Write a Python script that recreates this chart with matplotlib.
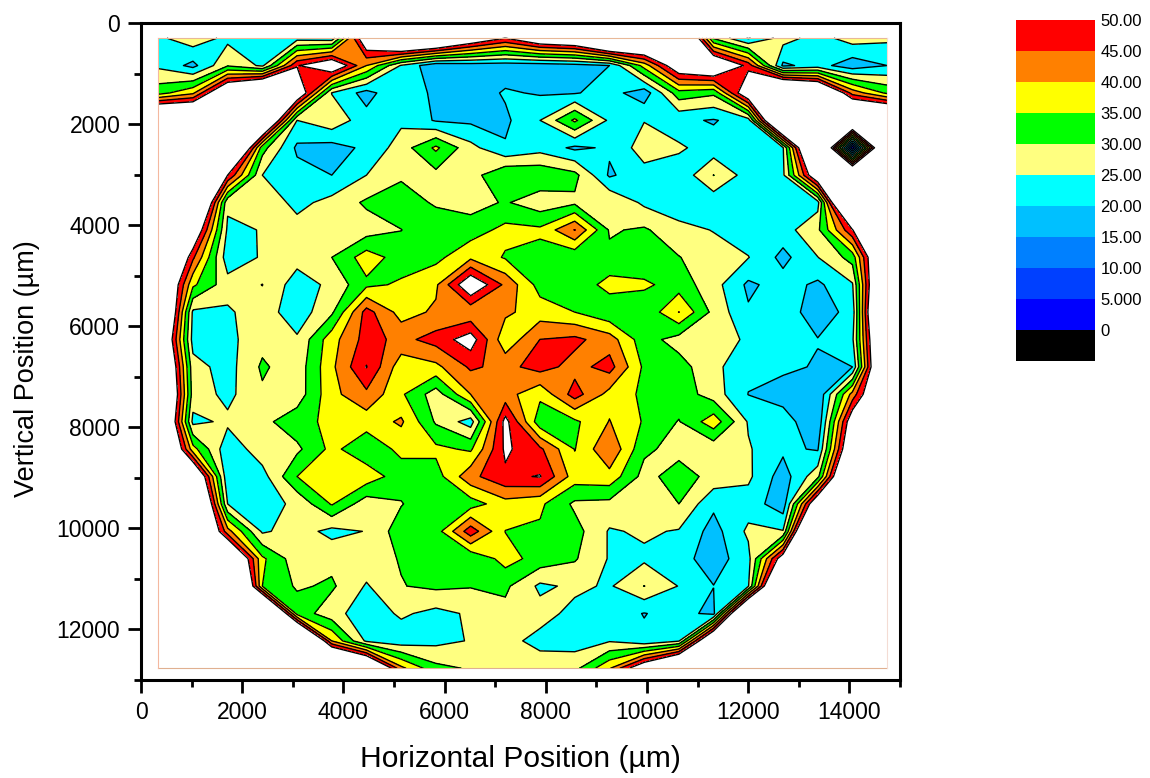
import numpy as np
import matplotlib
matplotlib.use("Agg")
import matplotlib.pyplot as plt
from matplotlib.ticker import MultipleLocator

plt.rcParams['font.family'] = ['Liberation Sans', 'DejaVu Sans']

# measurement grid [um]
x_positions = [340, 1026, 1712, 2398, 3084, 3770, 4456, 5142, 5828, 6514, 7200,
               7886, 8572, 9258, 9944, 10630, 11316, 12002, 12688, 13374, 14060, 14746]
y_positions = [300, 842, 1384, 1926, 2469, 3011, 3553, 4095, 4637, 5179, 5721, 6263,
               6805, 7347, 7889, 8431, 8974, 9516, 10058, 10600, 11142, 11684, 12226, 12768]

# one list per row, top to bottom
values = [
    [24, 28, 23.7, 23, 23, 22, 58, 74, 70, 58, 50, 59, 62, 78, 71, 77, 29.5, 19.5, 27, 23, 27.3, 26],
    [24, 18.5, 29.5, 24, 49.5, 58, 40, 24.5, 16, 17, 17, 17, 18, 20, 37, 57, 62, 48, 19, 22, 17, 20],
    [33, 39, 63, 77, 59, 24.8, 18, 24.7, 18.5, 17, 20.6, 19.5, 19.6, 22, 17, 33, 31, 58, 80, 70, 43, 34],
    [75, 73, 85, 72, 25, 28.5, 22, 24, 19.5, 19, 19, 25, 36, 24, 24.8, 21, 19.6, 22.5, 80, 85, 75, 75],
    [85, 85, 83, 32, 19, 18, 21, 27.4, 36, 26.6, 20.5, 23, 19, 20.7, 27.5, 26, 22, 23, 24.5, 81, 1, 78],
    [85, 85, 50, 25, 22, 20, 25, 29.1, 28.4, 27.9, 34.5, 34, 31.5, 19.3, 23, 21.3, 30.1, 22.6, 24, 59, 75, 85],
    [85, 78, 26, 28.5, 23.5, 26.7, 30.8, 33, 29.2, 28, 30.5, 27, 29, 29.7, 24, 22, 21.6, 21, 21, 23, 88, 85],
    [80, 59, 24, 25.2, 27, 28, 27.6, 29.9, 33.9, 32.5, 36.5, 36, 45.2, 29.5, 30.7, 26.5, 24.8, 22, 22.8, 29, 49.5, 85],
    [76, 46, 22, 25.5, 27, 30, 37.6, 32.7, 33.6, 38.9, 34.5, 33, 31, 31, 31, 30.2, 27, 25.2, 18.5, 24.9, 32, 72],
    [69, 36, 27, 30.1, 22.3, 26.3, 33.9, 35.7, 39.1, 56, 43.8, 33, 31.4, 37, 36, 32.7, 27, 19, 22.2, 19, 24.5, 77],
    [76, 24, 24.3, 27.6, 22, 29.1, 47, 38, 40.8, 41, 41, 37.5, 35, 31, 31, 40.1, 28.5, 20.6, 23, 17, 22, 85],
    [68, 23, 23.5, 28.4, 25.7, 38, 47, 43.5, 47, 52.9, 36.4, 45.05, 46.2, 42.5, 32, 28, 27.5, 24.2, 22, 20.2, 24, 76],
    [74, 26.9, 23, 30.8, 27, 38.9, 50.2, 37, 38.7, 45.8, 43.5, 47, 43.2, 47, 34, 32, 26.5, 21, 20.9, 19.6, 20, 76],
    [78, 27.7, 23.7, 29.2, 27.2, 38.5, 43.9, 35.8, 27.4, 40, 42, 36.2, 47.2, 38.2, 34, 33, 27.5, 19.9, 18, 15.5, 42, 68],
    [75, 23.6, 26, 28.6, 33, 36.4, 37.2, 40.8, 29.3, 22.6, 52, 31.7, 34, 40.2, 34.5, 29.7, 38, 24.5, 22.3, 16, 56, 80],
    [77, 37, 21.5, 27.9, 28.9, 36.4, 31.3, 36.4, 36.2, 34.2, 51, 46, 34.8, 44.5, 31, 28.2, 26.6, 25.5, 21, 19.5, 62, 80],
    [85, 65, 21, 23, 35, 38, 38, 32.3, 32.7, 43.5, 49, 50.3, 37.5, 38.2, 28.2, 32.5, 28.2, 26, 17.5, 28.4, 76, 80],
    [85, 79, 25, 23, 26, 35.5, 27, 29.7, 34, 32.5, 38, 36, 29, 28.5, 28.5, 30, 21, 22.7, 17, 60, 85, 85],
    [85, 75, 42, 24.2, 27.3, 23.5, 25.2, 32.8, 32.5, 48, 34.9, 34.2, 32, 24.5, 25.7, 24.6, 18, 26, 25.3, 90, 85, 85],
    [85, 85, 70, 36, 27, 28.5, 28, 30.3, 31.5, 30.5, 37, 33, 30.5, 24.6, 24.1, 22, 17.4, 23.3, 55, 85, 85, 85],
    [85, 85, 90, 35, 29.3, 30.8, 24.5, 29.8, 31, 30.3, 31, 24, 26, 24.4, 30.1, 24.8, 20.1, 24.5, 80, 85, 85, 85],
    [85, 85, 85, 87, 33, 27, 22, 25.8, 23.5, 25.7, 28.5, 26.8, 23.6, 22.5, 19.8, 22, 18.5, 80, 85, 85, 85, 85],
    [85, 85, 85, 85, 86, 40, 24, 22, 23.6, 25.3, 26.5, 23.5, 22.7, 24.6, 21, 24.5, 68, 85, 85, 85, 85, 85],
    [85, 85, 85, 85, 85, 85, 72, 41.4, 31.4, 29.5, 27, 27.6, 28.5, 39.5, 58, 77, 85, 85, 85, 85, 85, 85],
]

levels = [-5, 0, 5, 10, 15, 20, 25, 30, 35, 40, 45, 50]
level_colors = ['#000000', '#0000ff', '#0040ff', '#0080ff', '#00c0ff', '#00ffff',
                '#ffff80', '#00ff00', '#ffff00', '#ff8000', '#ff0000']
scale_labels = ['', '0', '5.000', '10.00', '15.00', '20.00', '25.00',
                '30.00', '35.00', '40.00', '45.00', '50.00']

W, H = 1150, 778
fig = plt.figure(figsize=(W / 100, H / 100), dpi=100)
ax = fig.add_axes([141 / W, 1 - 680 / H, (900 - 141) / W, (680 - 23) / H])

X, Y = np.meshgrid(x_positions, y_positions)
Z = np.array(values, dtype=float)
ax.contourf(X, Y, Z, levels=levels, colors=level_colors + ['#ffffff'], extend='max')
ax.contour(X, Y, Z, levels=levels[1:], colors='black', linewidths=1.0)

# thin frame of the data area
x0, x1 = x_positions[0], x_positions[-1]
y0, y1 = y_positions[0], y_positions[-1]
ax.plot([x0, x1], [y0, y0], color='#e8b898', lw=0.8)
ax.plot([x0, x1], [y1, y1], color='#e0b090', lw=0.8)
ax.plot([x0, x0], [y0, y1], color='#f4b8a0', lw=0.8)
ax.plot([x1, x1], [y0, y1], color='#f4dcd4', lw=0.8)

ax.set_xlim(0, 15000)
ax.set_ylim(13000, 0)
ax.xaxis.set_major_locator(MultipleLocator(2000))
ax.xaxis.set_minor_locator(MultipleLocator(1000))
ax.yaxis.set_major_locator(MultipleLocator(2000))
ax.yaxis.set_minor_locator(MultipleLocator(1000))
ax.tick_params(which='major', length=9.4, width=2, labelsize=16.5)
ax.tick_params(which='minor', length=5, width=2)
ax.tick_params(axis='x', which='major', pad=6)
ax.tick_params(axis='y', which='major', pad=5.5)
for spine in ax.spines.values():
    spine.set_linewidth(2.2)
ax.set_xlabel('Horizontal Position (µm)', fontsize=21.6, labelpad=15)
ax.set_ylabel('Vertical Position (µm)', fontsize=19.5, labelpad=12, y=0.474)

# colour scale
cax = fig.add_axes([1016 / W, 1 - 361 / H, (1095 - 1016) / W, (361 - 20) / H])
for i, col in enumerate(level_colors):
    cax.fill_between([0, 1], levels[i], levels[i + 1], color=col, lw=0)
cax.set_xlim(0, 1)
cax.set_ylim(-5, 50)
cax.set_xticks([])
cax.set_yticks(levels[1:])
cax.set_yticklabels(scale_labels[1:])
cax.yaxis.tick_right()
cax.tick_params(length=0, labelsize=12, pad=4)
for spine in cax.spines.values():
    spine.set_visible(False)

fig.savefig('out.png', dpi=100)
